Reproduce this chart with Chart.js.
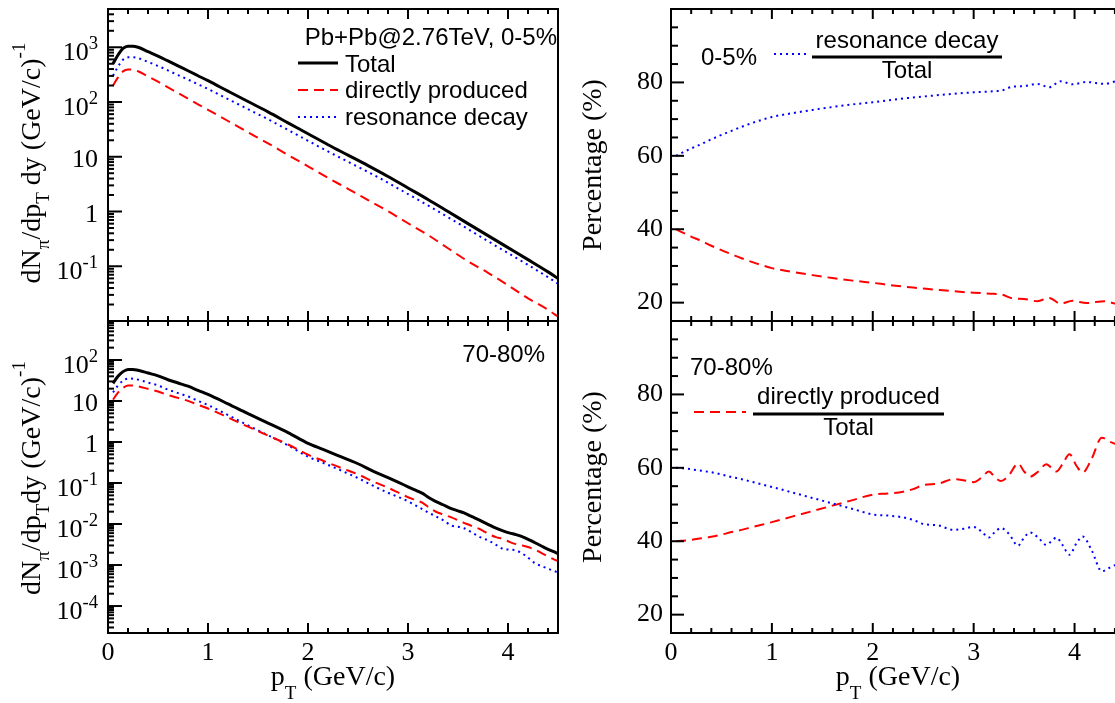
<!DOCTYPE html>
<html><head><meta charset="utf-8"><title>Pion spectra: directly produced vs resonance decay</title>
<script src="https://cdn.jsdelivr.net/npm/chart.js@4.4.1/dist/chart.umd.min.js"></script>
<style>
html,body{margin:0;padding:0;width:1115px;height:703px;overflow:hidden;background:#fff;}
canvas{position:absolute;}
</style></head>
<body>
<canvas id="tl" width="570" height="330" style="left:0;top:0"></canvas>
<canvas id="bl" width="570" height="392" style="left:0;top:311px"></canvas>
<canvas id="tr" width="560" height="330" style="left:570px;top:0"></canvas>
<canvas id="br" width="560" height="392" style="left:570px;top:311px"></canvas>
<script>
// ---------------- data ----------------
const ptCentral = [0.05,0.1,0.15,0.2,0.25,0.3,0.4,0.5,0.6,0.7,0.8,0.9,1.0,1.2,1.4,1.6,1.8,2.0,2.2,2.4,2.6,2.8,3.0,3.2,3.4,3.6,3.8,4.0,4.2,4.4,4.5];
const totalCentral = [501,724,955,1047,1047,1000,832,692,562,457,372,302,245,158,102,66,41.7,26.3,16.6,10.7,6.9,4.37,2.69,1.66,1.00,0.60,0.363,0.219,0.132,0.079,0.060];
const directCentral = [200,282,363,393,387,365,293,235,185,146,115,91,72,45,28,17.6,10.8,6.7,4.1,2.6,1.62,1.01,0.61,0.372,0.213,0.123,0.076,0.045,0.026,0.016,0.012];
const resonanceCentral = [301,442,592,654,660,635,539,457,377,311,257,211,173,113,74,48.4,30.9,19.6,12.5,8.1,5.28,3.36,2.08,1.29,0.787,0.477,0.287,0.174,0.106,0.063,0.048];

const ptPeripheral = [0.05,0.1,0.15,0.2,0.25,0.3,0.4,0.5,0.6,0.7,0.8,0.9,1.0,1.2,1.4,1.6,1.8,2.0,2.15,2.3,2.4,2.5,2.65,2.8,2.9,3.0,3.08,3.15,3.21,3.27,3.35,3.44,3.5,3.56,3.64,3.72,3.77,3.82,3.88,3.95,4.02,4.08,4.17,4.27,4.36,4.45,4.5];
const totalPeripheral = [27,40,52,59,59,56,48,41,33,27.5,23,18.2,14.5,8.5,4.9,2.9,1.7,0.93,0.66,0.468,0.372,0.295,0.195,0.135,0.105,0.081,0.066,0.055,0.0437,0.0363,0.0295,0.0234,0.0209,0.0186,0.0151,0.0123,0.0107,0.0093,0.0079,0.0068,0.0060,0.0055,0.0046,0.0035,0.0027,0.00214,0.0019];
const directPeripheral = [10.8,16.0,20.9,23.8,24.0,22.8,19.8,17.1,14.0,11.9,10.1,8.1,6.55,3.97,2.36,1.44,0.87,0.49,0.35,0.250,0.202,0.163,0.109,0.077,0.059,0.045,0.038,0.0325,0.0251,0.0205,0.0171,0.0143,0.0123,0.0107,0.0089,0.0075,0.0064,0.0055,0.0048,0.00433,0.00363,0.00323,0.00288,0.00239,0.00181,0.00141,0.00124];
const resonancePeripheral = [16.2,24.0,31.1,35.2,35.0,33.2,28.2,23.9,19.0,15.6,12.9,10.1,7.95,4.53,2.54,1.46,0.83,0.44,0.31,0.218,0.170,0.132,0.086,0.058,0.046,0.036,0.028,0.0225,0.0186,0.0158,0.0124,0.0091,0.0086,0.0079,0.0062,0.0048,0.0043,0.0038,0.0031,0.00247,0.00237,0.00227,0.00173,0.00111,0.00089,0.00073,0.00066];

const ptRatioCentral = [0.05,0.1,0.2,0.3,0.4,0.5,0.6,0.7,0.8,0.9,1.0,1.2,1.4,1.6,1.8,2.0,2.2,2.4,2.6,2.8,3.0,3.2,3.28,3.38,3.5,3.63,3.75,3.86,3.98,4.12,4.3,4.42,4.5];
const resFracCentral = [60.0,60.7,62.0,63.2,64.5,65.7,66.8,67.9,68.9,69.8,70.6,71.6,72.5,73.3,74.0,74.6,75.3,75.9,76.4,76.9,77.3,77.6,77.8,78.8,79.0,79.6,78.7,80.3,79.5,80.1,79.6,80.3,80.2];
const dirFracCentral = [40.0,39.3,38.0,36.8,35.5,34.3,33.2,32.1,31.1,30.2,29.4,28.4,27.5,26.7,26.0,25.4,24.7,24.1,23.6,23.1,22.7,22.4,22.2,21.2,21.0,20.4,21.3,19.7,20.5,19.9,20.4,19.7,19.8];

const ptRatioPeripheral = ptPeripheral;
const dirFracPeripheral = [40.0,40.1,40.2,40.4,40.6,40.8,41.2,41.8,42.5,43.1,43.8,44.5,45.2,46.7,48.2,49.7,51.2,52.7,53.0,53.5,54.2,55.3,55.7,56.9,56.6,56.1,57.4,59.0,57.5,56.4,58.0,61.2,59.0,57.6,59.0,61.0,60.0,59.0,61.0,63.7,60.5,58.7,62.5,68.2,67.0,66.0,65.5];
const resFracPeripheral = [60.0,59.9,59.8,59.6,59.4,59.2,58.8,58.2,57.5,56.9,56.2,55.5,54.8,53.3,51.8,50.3,48.8,47.3,47.0,46.5,45.8,44.7,44.3,43.1,43.4,43.9,42.6,41.0,42.5,43.6,42.0,38.8,41.0,42.4,41.0,39.0,40.0,41.0,39.0,36.3,39.5,41.3,37.5,31.8,33.0,34.0,34.5];

const xTickValues = [0,1,2,3,4];
const xTickLabels = ['0','1','2','3','4'];
const logTicksCentral = [0.1,1,10,100,1000];
const logTicksPeripheral = [1e-4,1e-3,1e-2,0.1,1,10,100];
const pctTickValues = [20,40,60,80];
const seriesNames = ['Total','directly produced','resonance decay'];

// ---------------- helpers ----------------
const SERIF = "'Liberation Serif','Times New Roman',serif";
const SANS = "'Liberation Sans',Arial,sans-serif";
const pts = (xs, ys) => xs.map((x, i) => ({x: x, y: ys[i]}));

function segWidth(ctx, segs, size, fam, ss) {
  let w = 0;
  for (const s of segs) { ctx.font = (s.k ? size * ss : size) + 'px ' + fam; w += ctx.measureText(s.t).width; }
  return w;
}
function drawSegs(ctx, segs, x, y, size, fam, ss, up, down) {
  let cx = x;
  for (const s of segs) {
    const fs = s.k ? size * ss : size;
    ctx.font = fs + 'px ' + fam;
    const dy = s.k === 'sub' ? size * down : (s.k === 'sup' ? -size * up : 0);
    ctx.fillText(s.t, cx, y + dy);
    cx += ctx.measureText(s.t).width;
  }
}
function hline(ctx, x1, x2, y, color, w, dash) {
  ctx.save(); ctx.strokeStyle = color; ctx.lineWidth = w; ctx.setLineDash(dash); ctx.lineCap = 'butt';
  ctx.beginPath(); ctx.moveTo(x1, y); ctx.lineTo(x2, y); ctx.stroke(); ctx.restore();
}
function seg(ctx, x1, y1, x2, y2) { ctx.beginPath(); ctx.moveTo(x1, y1); ctx.lineTo(x2, y2); ctx.stroke(); }

const TITLE_Y_TOP = [{t:'dN'},{t:'\u03c0',k:'sub'},{t:'/dp'},{t:'T',k:'sub'},{t:' dy (GeV/c)'},{t:'-1',k:'sup'}];
const TITLE_Y_BOT = [{t:'dN'},{t:'\u03c0',k:'sub'},{t:'/dp'},{t:'T',k:'sub'},{t:'dy (GeV/c)'},{t:'-1',k:'sup'}];
const TITLE_X = [{t:'p'},{t:'T',k:'sub'},{t:' (GeV/c)'}];
const TITLE_PCT = [{t:'Percentage (%)'}];

const deco = {
  id: 'deco',
  afterDraw(chart, args, o) {
    const ctx = chart.ctx, a = chart.chartArea, xs = chart.scales.x, ys = chart.scales.y;
    const panel = o.panel;
    const isLog = panel === 'tl' || panel === 'bl';
    ctx.save();
    ctx.strokeStyle = '#000'; ctx.fillStyle = '#000'; ctx.textBaseline = 'alphabetic';
    // frame
    ctx.lineWidth = 2; ctx.setLineDash([]);
    ctx.strokeRect(a.left, a.top, a.right - a.left, a.bottom - a.top);
    // x ticks (inward, bottom and top)
    for (let i = 0; i <= 22; i++) {
      const v = i * 0.2; if (v > 4.5001) break;
      const px = xs.getPixelForValue(v);
      const len = i % 5 === 0 ? 10 : 5;
      seg(ctx, px, a.bottom, px, a.bottom - len);
      seg(ctx, px, a.top, px, a.top + len);
    }
    // y ticks (inward, left)
    if (isLog) {
      for (let e = -6; e <= 4; e++) for (let m = 1; m <= 9; m++) {
        const v = m * Math.pow(10, e);
        if (v < ys.min * 0.999 || v > ys.max * 1.001) continue;
        const py = ys.getPixelForValue(v);
        seg(ctx, a.left, py, a.left + (m === 1 ? 14 : 6), py);
      }
      // decade labels with superscripts
      const list = panel === 'tl' ? logTicksCentral : logTicksPeripheral;
      for (const v of list) {
        const e = Math.round(Math.log10(v));
        const segs = e === 0 ? [{t:'1'}] : (e === 1 ? [{t:'10'}] : [{t:'10'},{t:String(e),k:'sup'}]);
        const w = segWidth(ctx, segs, 26, SERIF, 0.72);
        const py = ys.getPixelForValue(v) + (segs.length > 1 ? 13 : 10);
        drawSegs(ctx, segs, a.left - 10 - w, py, 26, SERIF, 0.72, 0.42, 0);
      }
    } else {
      for (let v = 15; v <= 100; v += 5) {
        const py = ys.getPixelForValue(v);
        seg(ctx, a.left, py, a.left + (v % 20 === 0 ? 13 : 7), py);
      }
    }
    // axis titles
    const yt = isLog ? (panel === 'tl' ? TITLE_Y_TOP : TITLE_Y_BOT) : TITLE_PCT;
    const ytx = isLog ? 40 : 31;
    const yty = {tl: 163, bl: 167, tr: 165, br: 166}[panel];
    const yw = segWidth(ctx, yt, 28, SERIF, 0.68);
    ctx.save(); ctx.translate(ytx, yty); ctx.rotate(-Math.PI / 2);
    drawSegs(ctx, yt, -yw / 2, 0, 28, SERIF, 0.68, 0.55, 0.33);
    ctx.restore();
    if (panel === 'bl' || panel === 'br') {
      const xw = segWidth(ctx, TITLE_X, 28, SERIF, 0.68);
      drawSegs(ctx, TITLE_X, (a.left + a.right) / 2 - xw / 2, 374, 28, SERIF, 0.68, 0.55, 0.5);
    }
    // in-panel texts / legends
    ctx.font = '24px ' + SANS;
    if (panel === 'tl') {
      ctx.textAlign = 'right'; ctx.fillText('Pb+Pb@2.76TeV, 0-5%', 557, 45);
      ctx.textAlign = 'left';
      hline(ctx, 298, 338, 63, '#000000', 3, []);
      ctx.fillText(seriesNames[0], 345, 72);
      hline(ctx, 298, 338, 90, '#ff0000', 2, [10, 6]);
      ctx.fillText(seriesNames[1], 345, 98);
      hline(ctx, 298, 338, 117, '#0000ff', 2, [2, 4]);
      ctx.fillText(seriesNames[2], 345, 125);
    } else if (panel === 'bl') {
      ctx.textAlign = 'right'; ctx.fillText('70-80%', 545, 51);
    } else if (panel === 'tr') {
      ctx.textAlign = 'left'; ctx.fillText('0-5%', 131, 65);
      hline(ctx, 204, 236, 54, '#0000ff', 2, [2, 4]);
      ctx.textAlign = 'center';
      ctx.fillText(seriesNames[2], 337, 48);
      ctx.fillRect(242, 55.5, 190, 3);
      ctx.fillText(seriesNames[0], 337, 78);
    } else if (panel === 'br') {
      ctx.textAlign = 'left'; ctx.fillText('70-80%', 120, 64);
      hline(ctx, 124, 176, 101, '#ff0000', 2, [10, 6]);
      ctx.textAlign = 'center';
      ctx.fillText(seriesNames[1], 278.5, 93);
      ctx.fillRect(183, 101.5, 191, 3);
      ctx.fillText(seriesNames[0], 278.5, 124);
    }
    ctx.restore();
  }
};

const lineBase = {pointRadius: 0, fill: false, cubicInterpolationMode: 'monotone', borderCapStyle: 'butt'};
function totalDs(d) { return Object.assign({label: seriesNames[0], data: d, borderColor: '#000000', borderWidth: 3}, lineBase); }
function directDs(d) { return Object.assign({label: seriesNames[1], data: d, borderColor: '#ff0000', borderWidth: 2, borderDash: [10, 6]}, lineBase); }
function resDs(d) { return Object.assign({label: seriesNames[2], data: d, borderColor: '#0000ff', borderWidth: 2, borderDash: [2, 4]}, lineBase); }

function xScale(show, h) {
  return {
    type: 'linear', min: 0, max: 4.5, display: show,
    grid: {display: false, drawTicks: false}, border: {display: false},
    ticks: {display: show, font: {family: SERIF, size: 26}, color: '#000', padding: 5, maxRotation: 0, autoSkip: false,
            callback: v => xTickLabels[xTickValues.indexOf(v)]},
    afterBuildTicks: s => { s.ticks = xTickValues.map(v => ({value: v})); },
    afterFit: s => { s.height = h; s.paddingLeft = 0; s.paddingRight = 0; s.paddingTop = 0; s.paddingBottom = 0; }
  };
}
function logY(min, max) {
  return {
    type: 'logarithmic', min: min, max: max, display: true,
    grid: {display: false, drawTicks: false}, border: {display: false},
    ticks: {display: false},
    afterFit: s => { s.width = 108; s.paddingTop = 0; s.paddingBottom = 0; s.paddingLeft = 0; s.paddingRight = 0; }
  };
}
function pctY() {
  return {
    type: 'linear', min: 15, max: 100, display: true,
    grid: {display: false, drawTicks: false}, border: {display: false},
    ticks: {display: true, font: {family: SERIF, size: 26}, color: '#000', padding: 8, autoSkip: false,
            callback: v => String(v)},
    afterBuildTicks: s => { s.ticks = pctTickValues.map(v => ({value: v})); },
    afterFit: s => { s.width = 101; s.paddingTop = 0; s.paddingBottom = 0; s.paddingLeft = 0; s.paddingRight = 0; }
  };
}
function opts(panel, pad, x, y) {
  return {
    responsive: false, animation: false, devicePixelRatio: 1,
    layout: {padding: pad},
    plugins: {legend: {display: false}, tooltip: {enabled: false}, deco: {panel: panel}},
    scales: {x: x, y: y}
  };
}

new Chart(document.getElementById('tl'), {
  type: 'line',
  data: {datasets: [totalDs(pts(ptCentral, totalCentral)), directDs(pts(ptCentral, directCentral)), resDs(pts(ptCentral, resonanceCentral))]},
  options: opts('tl', {left: 0, top: 9, right: 12, bottom: 9}, xScale(false, 0), logY(0.01, 5000)),
  plugins: [deco]
});
new Chart(document.getElementById('bl'), {
  type: 'line',
  data: {datasets: [totalDs(pts(ptPeripheral, totalPeripheral)), directDs(pts(ptPeripheral, directPeripheral)), resDs(pts(ptPeripheral, resonancePeripheral))]},
  options: opts('bl', {left: 0, top: 10, right: 12, bottom: 0}, xScale(true, 70), logY(2.2e-5, 893)),
  plugins: [deco]
});
new Chart(document.getElementById('tr'), {
  type: 'line',
  data: {datasets: [resDs(pts(ptRatioCentral, resFracCentral)), directDs(pts(ptRatioCentral, dirFracCentral))]},
  options: opts('tr', {left: 0, top: 9, right: 5, bottom: 9}, xScale(false, 0), pctY()),
  plugins: [deco]
});
new Chart(document.getElementById('br'), {
  type: 'line',
  data: {datasets: [resDs(pts(ptRatioPeripheral, resFracPeripheral)), directDs(pts(ptRatioPeripheral, dirFracPeripheral))]},
  options: opts('br', {left: 0, top: 10, right: 5, bottom: 0}, xScale(true, 70), pctY()),
  plugins: [deco]
});
</script>
</body></html>
